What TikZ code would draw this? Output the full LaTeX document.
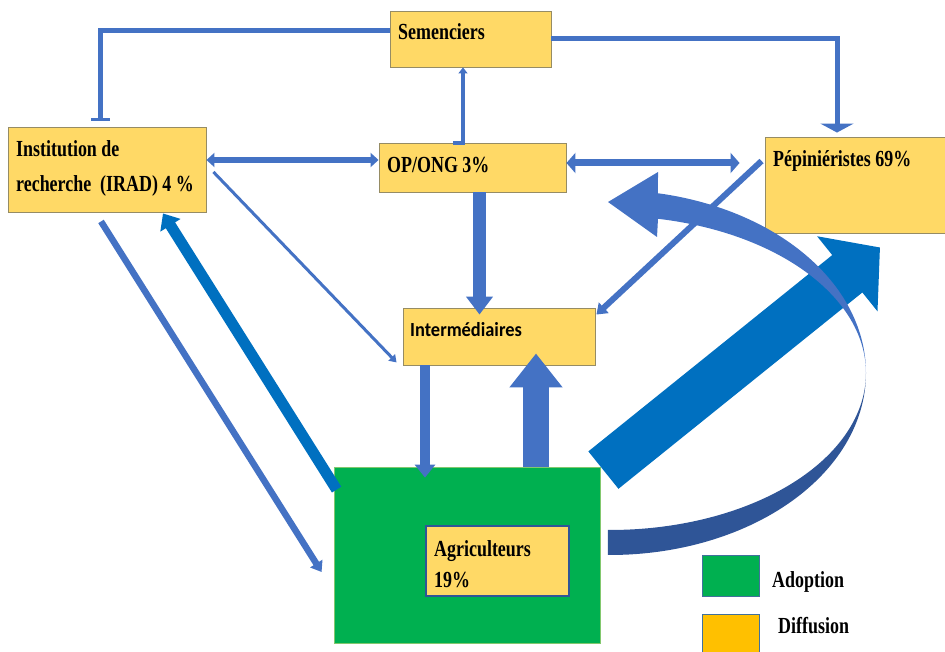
\documentclass[tikz,border=0pt]{standalone}
\usepackage{fontspec}
\setmainfont{Liberation Serif}[FakeStretch=0.78]
\newfontfamily\interfont{Carlito}[FakeStretch=0.92]
\usetikzlibrary{arrows.meta}

\definecolor{boxfill}{HTML}{FFD966}
\definecolor{boxline}{RGB}{150,140,100}
\definecolor{flowblue}{HTML}{4472C4}
\definecolor{deepblue}{HTML}{0070C0}
\definecolor{ribbon}{RGB}{47,85,151}
\definecolor{adoptgreen}{HTML}{00B050}
\definecolor{adoptedge}{RGB}{130,200,110}
\definecolor{legendgold}{HTML}{FFC000}
\definecolor{legendline}{HTML}{41719C}

\begin{document}
\begin{tikzpicture}[x=1pt, y=-1pt,
  box/.style={draw=boxline, line width=0.9pt, fill=boxfill, inner sep=0pt},
  txt/.style={font=\fontsize{23}{33}\selectfont\bfseries, anchor=base west,
    inner sep=0pt, align=left},
  link/.style={draw=flowblue, line width=#1}]
  % Canvas in pixels of the figure (y grows downwards)
  \useasboundingbox (0,0) rectangle (945,652);
  % Actor boxes
  \node[box, minimum width=161pt, minimum height=56pt] (sem) at (470.5,39) {};
  \node[box, minimum width=198pt, minimum height=85pt] (irad) at (107,169.5) {};
  \node[box, minimum width=187pt, minimum height=49pt] (opong) at (472.5,167.5) {};
  \node[box, minimum width=190pt, minimum height=96pt] (pep) at (860,185) {};
  \node[box, minimum width=192pt, minimum height=57pt] (inter) at (499,336.5) {};
  % Adoption area with the farmers inside
  \node[fill=adoptgreen, draw=adoptedge, line width=0.8pt,
    minimum width=266pt, minimum height=176pt] (adopt) at (467,555) {};
  \node[box, draw=ribbon, line width=1.2pt,
    minimum width=143pt, minimum height=70pt] (agri) at (497.5,561) {};
  % Legend squares
  \node[fill=adoptgreen, draw=legendline, line width=1pt,
    minimum width=57pt, minimum height=41pt] (legadopt) at (730.5,575.5) {};
  \node[fill=legendgold, draw=legendline, line width=1pt,
    minimum width=57pt, minimum height=46pt] (legdiff) at (730.5,637) {};
  % Labels (multi-line ones sit on their last baseline)
  \node[txt] (semlbl) at (398,40) {Semenciers};
  \node[txt, font=\fontsize{23}{35}\selectfont\bfseries] (iradlbl) at (16,192)
    {Institution de\\recherche\ \ (IRAD) 4 \%};
  \node[txt] (oponglbl) at (387,173) {OP/ONG 3\%};
  \node[txt] (peplbl) at (773,167) {Pépiniéristes 69\%};
  \node[txt, font=\fontsize{20}{24}\selectfont\interfont\bfseries] (interlbl)
    at (410,337) {Intermédiaires};
  \node[txt, font=\fontsize{23}{31}\selectfont\bfseries] (agrilbl) at (434,587)
    {Agriculteurs\\19\%};
  \node[txt] (adoptlbl) at (772,587) {Adoption};
  \node[txt] (difflbl) at (778,633) {Diffusion};
  % Elbow links from the seed producers
  \draw[link=5pt, -{Bar[width=19pt, line width=3pt]}]
    ([yshift=8pt]sem.west) -| ([xshift=-7pt, yshift=6pt]irad.north);
  \draw[link=5pt, -{Triangle[width=33pt, length=9pt]}]
    (sem.east) -| ([xshift=-23pt, yshift=4pt]pep.north);
  \draw[link=4pt, -{Triangle[width=9pt, length=6pt]}]
    ([xshift=-19.5pt]opong.north) -| ([xshift=-7.5pt]sem.south);
  % Two-way exchanges with OP/ONG
  \draw[link=6pt, {Triangle[width=14pt, length=8pt]}-{Triangle[width=14pt, length=8pt]}]
    ([yshift=9.5pt]irad.east) -- ([yshift=7.5pt]opong.west);
  \draw[link=7pt, {Triangle[width=20pt, length=9pt]}-{Triangle[width=20pt, length=9pt]}]
    ([yshift=4.5pt]opong.east) -- ([xshift=-25pt, yshift=22pt]pep.west);
  % Towards the intermediaries
  \draw[link=13pt, -{Triangle[width=26pt, length=18pt]}]
    ([xshift=7pt]opong.south) -- ([xshift=-19.5pt, yshift=-7pt]inter.north);
  \draw[link=3pt, -{Triangle[width=9pt, length=7pt]}]
    ([xshift=7pt, yshift=-2.5pt]irad.east) -- ([xshift=-6pt, yshift=3pt]inter.south west);
  % Research <-> farmers
  \draw[link=6.5pt, -{Triangle[width=14pt, length=10pt]}]
    ([xshift=-6pt, yshift=-9pt]irad.south) -- ([xshift=-12pt, yshift=-17pt]adopt.west);
  \draw[link=11pt, draw=deepblue, -{Triangle[width=23pt, length=14pt]}]
    ([xshift=3pt, yshift=-23pt]adopt.north west) -- ([xshift=56pt, yshift=-1pt]irad.south);
  % Intermediaries <-> farmers
  \draw[link=10pt, -{Triangle[width=20pt, length=13pt]}]
    ([xshift=-74pt]inter.south) -- ([xshift=-42pt, yshift=-11pt]adopt.north);
  \draw[link=26pt, -{Triangle[width=51pt, length=34pt]}]
    ([xshift=69pt]adopt.north) -- ([xshift=37pt, yshift=12pt]inter.south);
  % Big block arrow from farmers to nurseries
  \draw[link=48pt, draw=deepblue, -{Triangle[width=94pt, length=42pt]}]
    ([xshift=3pt, yshift=-3.5pt]adopt.north east) -- ([xshift=20pt, yshift=-14pt]pep.south);
  % Twisted ribbon arrow round the right side: back face, then front face
  \fill[ribbon]
    plot[domain=0:-90.5, samples=60] ({610+256*cos(\x)}, {373-157*sin(\x)})
    -- plot[domain=-90.5:0, samples=60] ({610+256*cos(\x)}, {373-182*sin(\x)})
    -- cycle;
  \fill[flowblue] (658,172) -- (608,202) -- (657,237) -- (658,218.8)
    -- plot[domain=79.2:0, samples=60] ({610+256*cos(\x)}, {373-157*sin(\x)})
    -- plot[domain=0:79.2, samples=60] ({610+256*cos(\x)}, {373-183*sin(\x)})
    -- cycle;
  % Nurseries -> intermediaries
  \draw[link=6pt, -{Triangle[width=14pt, length=10pt]}]
    ([xshift=-3pt, yshift=24pt]pep.west) -- ([xshift=1pt, yshift=-7pt]inter.north east);
\end{tikzpicture}
\end{document}
